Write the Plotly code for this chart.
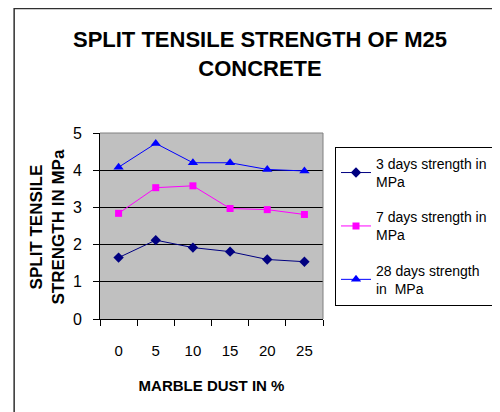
import plotly.graph_objects as go

# ── data ────────────────────────────────────────────────────────────────────
marble_dust = ["0", "5", "10", "15", "20", "25"]
days_3 = [1.65, 2.12, 1.92, 1.81, 1.60, 1.54]
days_7 = [2.84, 3.53, 3.58, 2.97, 2.94, 2.81]
days_28 = [4.08, 4.72, 4.20, 4.20, 4.02, 3.98]

# ── figure ──────────────────────────────────────────────────────────────────
fig = go.Figure()
fig.add_trace(go.Scatter(
    x=marble_dust, y=days_3, name="3 days strength in<br>MPa",
    legendgroup="d3", mode="lines+markers",
    line=dict(color="#000080", width=1),
    marker=dict(symbol="diamond", size=8, color="#000080"),
))
fig.add_trace(go.Scatter(
    x=marble_dust, y=days_7, name="7 days strength in<br>MPa",
    legendgroup="d7", mode="lines+markers",
    line=dict(color="#FF00FF", width=1),
    marker=dict(symbol="square", size=7, color="#FF00FF"),
))
fig.add_trace(go.Scatter(
    x=marble_dust, y=days_28, name="28 days strength<br>in  MPa",
    legendgroup="d28", mode="lines+markers",
    line=dict(color="#0000FF", width=1),
    marker=dict(symbol="triangle-up", size=9, color="#0000FF"),
))

FONT = "Liberation Sans, Arial, sans-serif"

# page body adds an 8px margin, so the figure is laid out 8px up/left
fig.update_layout(
    width=500, height=412,
    margin=dict(l=92, r=182, t=125, b=101),
    paper_bgcolor="white",
    plot_bgcolor="#C0C0C0",
    font=dict(family=FONT, size=15, color="black"),
    showlegend=True,
    title=dict(
        text="<b>SPLIT TENSILE STRENGTH OF M25<br>CONCRETE</b>",
        x=0.504, xanchor="center", y=0.905, yanchor="middle",
        font=dict(family=FONT, size=22, color="black"),
    ),
    legend=dict(
        xref="container", yref="container",
        x=0.654, xanchor="left", y=0.663, yanchor="top",
        bordercolor="black", borderwidth=1, bgcolor="white",
        font=dict(family=FONT, size=14, color="black"),
        tracegroupgap=14, traceorder="grouped",
    ),
)

fig.update_xaxes(
    type="category", range=[-0.5, 5.5],
    showline=True, linecolor="black", linewidth=1,
    ticks="outside", tickson="boundaries", ticklen=6, tickcolor="black",
    ticklabelstandoff=18,
    showgrid=False, zeroline=False,
    title=dict(text="<b>MARBLE DUST IN %</b>", standoff=22,
               font=dict(family=FONT, size=15)),
)
fig.update_yaxes(
    range=[0, 5], dtick=1,
    showline=True, linecolor="black", linewidth=1,
    ticks="outside", ticklen=6, tickcolor="black",
    ticklabelstandoff=8, tickfont=dict(size=16),
    showgrid=True, gridcolor="black", gridwidth=1,
    zeroline=False,
)

# y axis title, two rotated lines
fig.add_annotation(
    text="<b>SPLIT TENSILE<br>STRENGTH IN MPa</b>",
    xref="paper", yref="paper", x=-0.235, y=0.495,
    xanchor="center", yanchor="middle", textangle=-90,
    showarrow=False, font=dict(family=FONT, size=17, color="black"),
)

# grey plot-area border on top and right
fig.add_shape(type="path", xref="paper", yref="paper",
              path="M 0,1 L 1,1 L 1,0", line=dict(color="#808080", width=1),
              layer="above")

# outer chart frame (left and top edges visible in the crop)
fig.add_shape(type="path", xref="paper", yref="paper",
              path="M -0.385,-0.6 L -0.385,1.669 L 1.8,1.669",
              line=dict(color="#303030", width=1.5))

fig.write_html("out.html")
